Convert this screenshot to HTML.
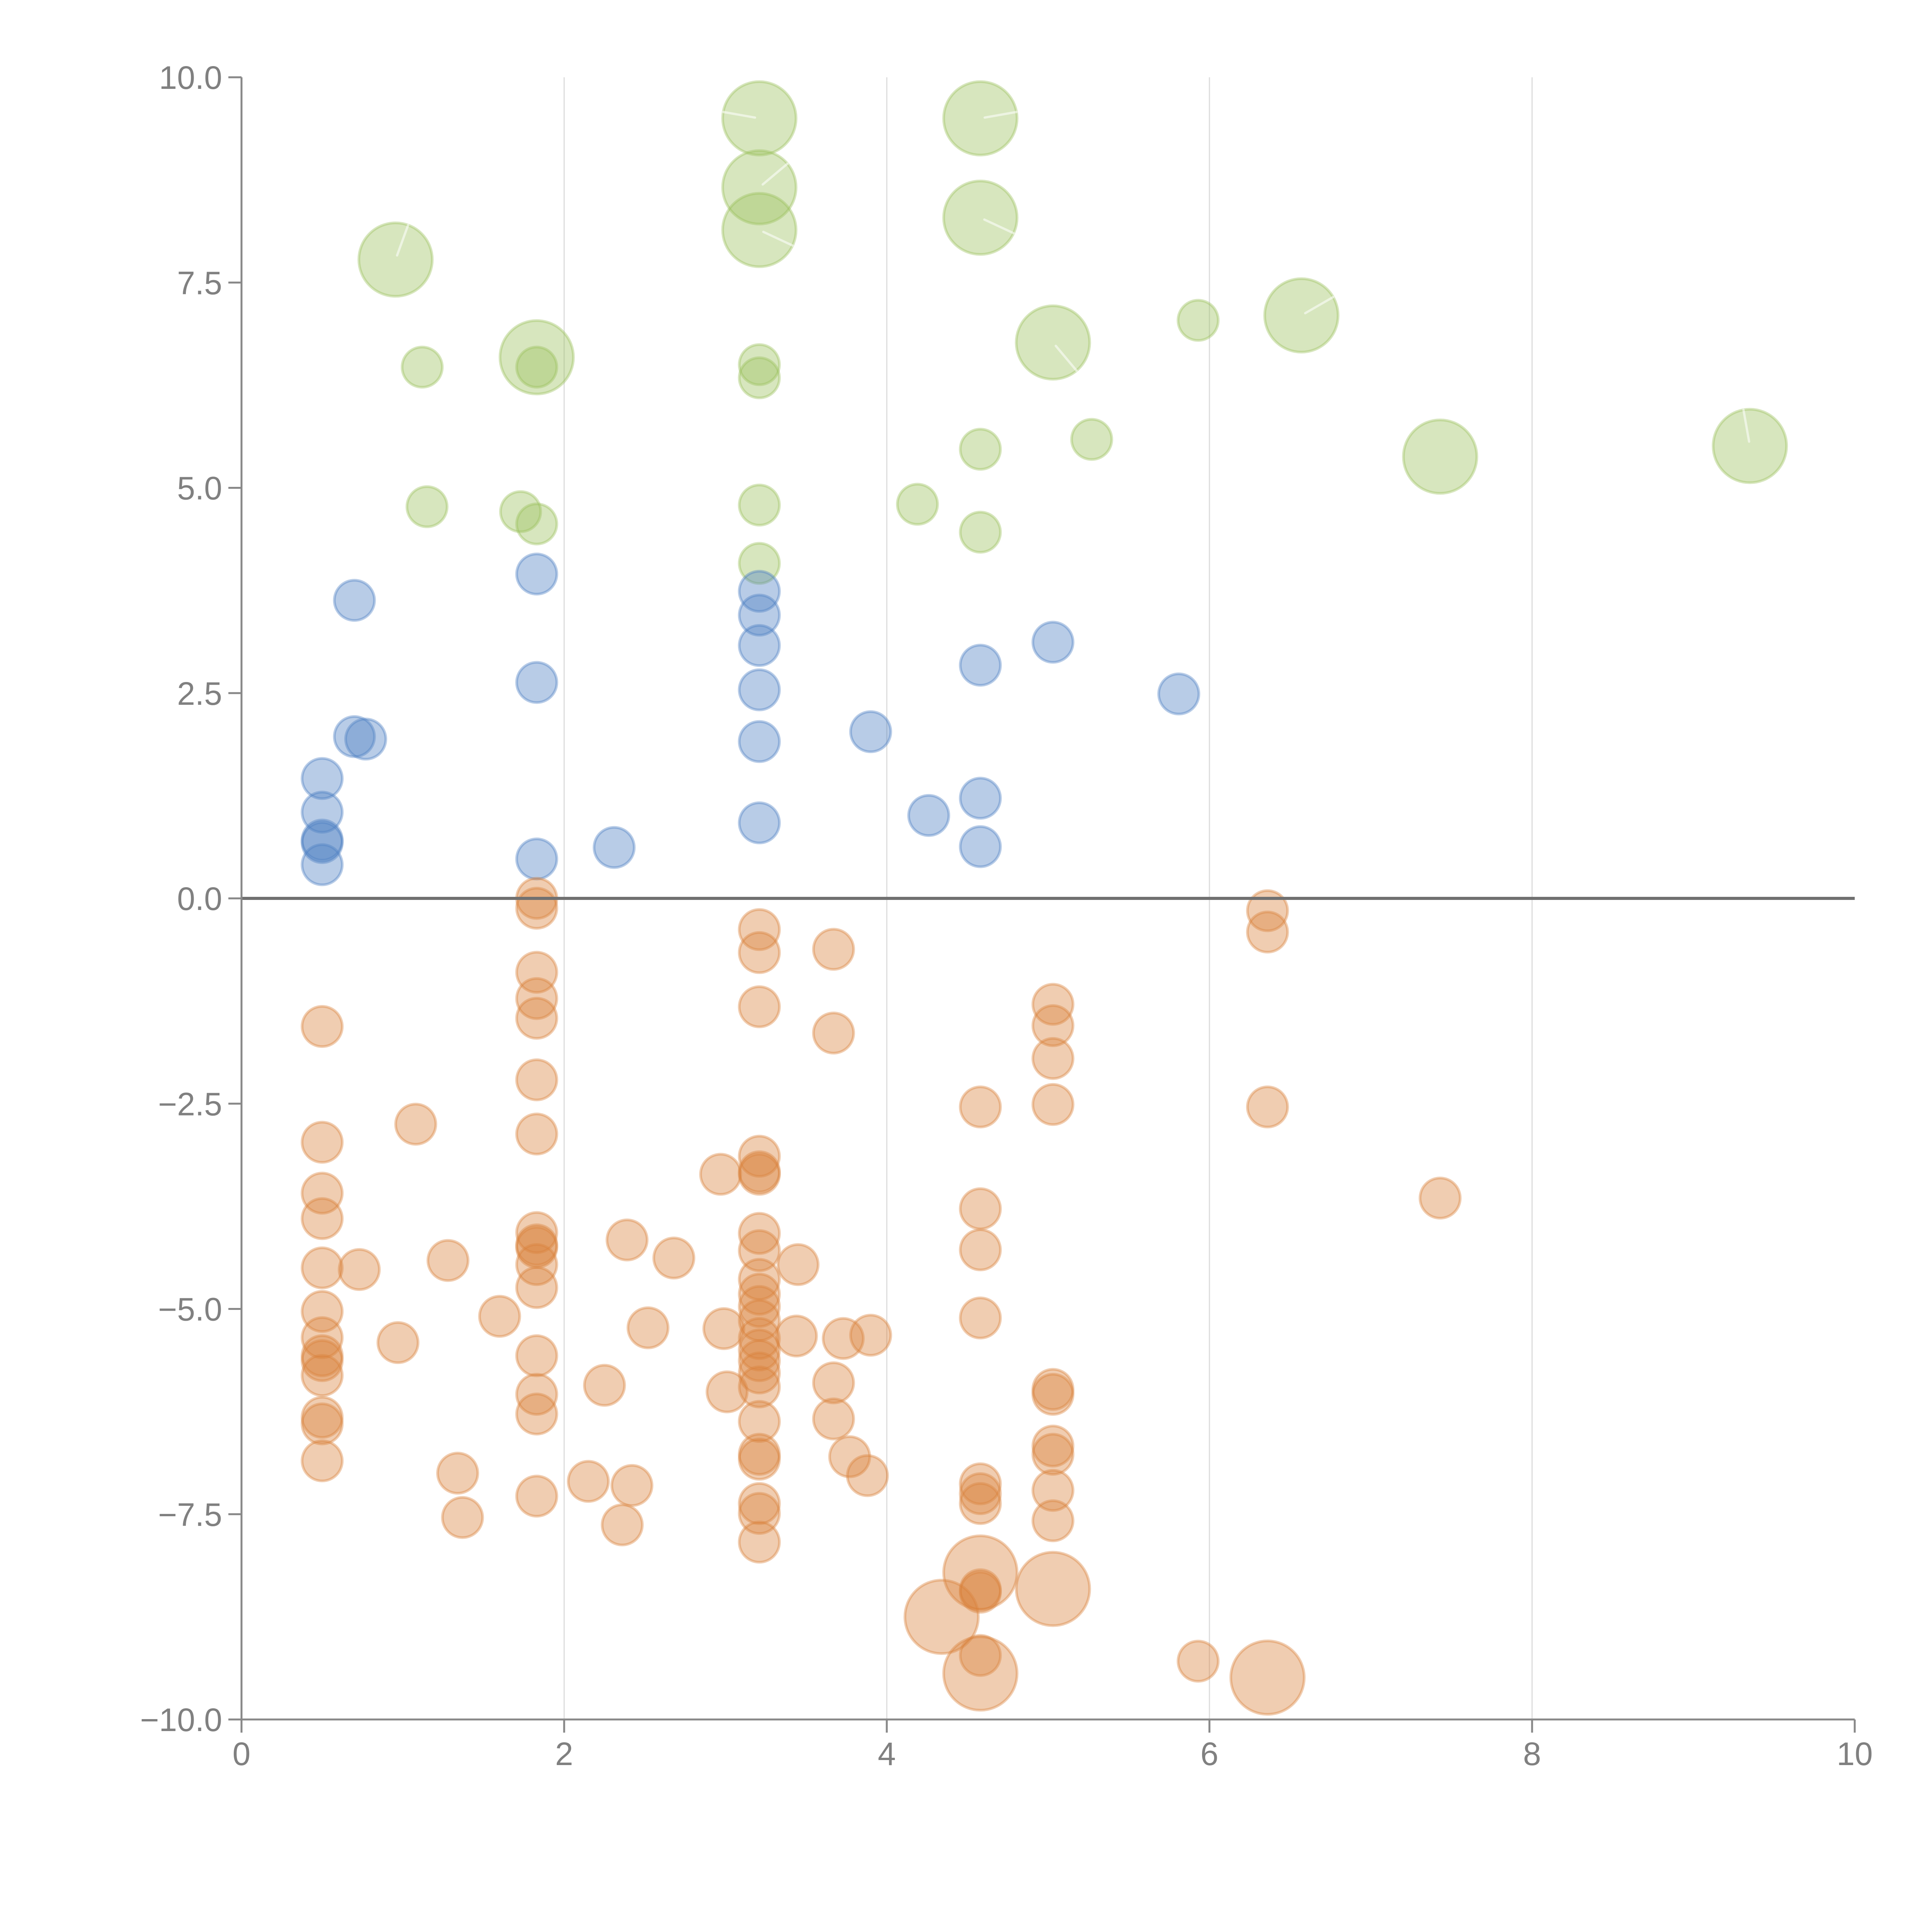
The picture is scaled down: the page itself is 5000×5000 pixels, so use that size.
<!DOCTYPE html>
<html><head><meta charset="utf-8"><style>
html,body{margin:0;padding:0;background:#fff;width:5000px;height:5000px;overflow:hidden}
svg{display:block}
svg text{font-family:"Liberation Sans",Arial,sans-serif;fill:#808080;font-size:84px}
</style></head><body>
<svg id="chart" width="5000" height="5000" xmlns="http://www.w3.org/2000/svg">
<g id="grid"></g>
<g id="marks"></g>
<g id="axes"></g>
</svg>
<script>
const xTicks=[0,2,4,6,8,10];
const xTickLabels=["0","2","4","6","8","10"];
const yTicks=[-10,-7.5,-5,-2.5,0,2.5,5,7.5,10];
const yTickLabels=["\u221210.0","\u22127.5","\u22125.0","\u22122.5","0.0","2.5","5.0","7.5","10.0"];
const greenX=[0.955,1.12,1.15,1.73,1.83,1.83,1.83,3.21,3.21,3.21,3.21,3.21,3.21,3.21,4.19,4.58,4.58,4.58,4.58,5.03,5.27,5.93,6.57,7.43,9.35];
const greenY=[7.78,6.47,4.77,4.71,4.56,6.47,6.59,9.5,8.66,8.14,6.5,6.34,4.79,4.08,4.8,9.5,8.29,5.47,4.46,6.77,5.59,7.04,7.1,5.38,5.51];
const greenBig=[1,0,0,0,0,0,1,1,1,1,0,0,0,0,0,1,1,0,0,1,0,0,1,1,1];
const greenAngle=[-70,null,null,null,null,null,null,-170,-40,25,null,null,null,null,null,-10,25,null,null,50,null,null,-30,null,-100];
const blueX=[0.70,0.70,0.77,0.5,0.5,0.5,0.5,0.5,1.83,1.83,1.83,2.31,3.21,3.21,3.21,3.21,3.21,3.21,3.90,4.26,4.58,4.58,4.58,5.03,5.81];
const blueY=[3.63,1.97,1.94,1.46,1.05,0.71,0.68,0.41,3.95,2.63,0.48,0.62,3.74,3.45,3.08,2.54,1.91,0.92,2.03,1.01,2.84,1.22,0.63,3.12,2.49];
const orangeX=[0.5,0.5,0.5,0.5,0.5,0.5,0.5,0.5,0.5,0.5,0.5,0.5,0.5,
1.08,0.73,0.97,1.28,1.34,1.37,1.60,
1.83,1.83,1.83,1.83,1.83,1.83,1.83,1.83,1.83,1.83,1.83,1.83,1.83,1.83,1.83,1.83,
2.15,2.25,2.36,2.39,2.42,2.52,2.68,2.97,2.99,3.01,
3.21,3.21,3.21,3.21,3.21,3.21,3.21,3.21,3.21,3.21,3.21,3.21,3.21,3.21,3.21,3.21,3.21,3.21,3.21,3.21,3.21,3.21,3.21,
3.45,3.44,3.67,3.67,3.67,3.67,3.73,3.77,3.88,3.90,4.34,
4.58,4.58,4.58,4.58,4.58,4.58,4.58,4.58,4.58,4.58,4.58,4.58,
5.03,5.03,5.03,5.03,5.03,5.03,5.03,5.03,5.03,5.03,5.03,
5.93,6.36,6.36,6.36,6.36,7.43];
const orangeY=[-1.56,-2.97,-3.59,-3.90,-4.50,-5.03,-5.35,-5.57,-5.63,-5.81,-6.32,-6.40,-6.85,
-2.75,-4.52,-5.41,-4.41,-7.0,-7.54,-5.09,
0,-0.12,-0.90,-1.22,-1.46,-2.21,-2.87,-4.07,-4.22,-4.25,-4.46,-4.74,-5.57,-6.04,-6.28,-7.28,
-7.1,-5.93,-7.63,-4.16,-7.15,-5.23,-4.38,-3.36,-5.24,-6.01,
-0.38,-0.66,-1.32,-3.14,-3.33,-3.36,-4.08,-4.29,-4.64,-4.82,-4.97,-5.14,-5.36,-5.50,-5.63,-5.78,-5.95,-6.37,-6.77,-6.83,-7.37,-7.49,-7.84,
-4.46,-5.33,-0.62,-1.64,-5.90,-6.34,-5.36,-6.80,-7.03,-5.32,-8.75,
-2.54,-3.78,-4.28,-5.11,-7.13,-7.25,-7.37,-8.21,-8.42,-8.45,-9.22,-9.44,
-1.29,-1.55,-1.95,-2.51,-5.98,-6.04,-6.67,-6.77,-7.21,-7.58,-8.41,
-9.29,-0.15,-0.41,-2.54,-9.49,-3.65];
const orangeBig=[0,0,0,0,0,0,0,0,0,0,0,0,0, 0,0,0,0,0,0,0, 0,0,0,0,0,0,0,0,0,0,0,0,0,0,0,0, 0,0,0,0,0,0,0,0,0,0,
0,0,0,0,0,0,0,0,0,0,0,0,0,0,0,0,0,0,0,0,0,0,0, 0,0,0,0,0,0,0,0,0,0,1,
0,0,0,0,0,0,0,1,0,0,0,1, 0,0,0,0,0,0,0,0,0,0,1, 0,0,0,0,1,0];
const orangeAngle={81:140,88:-112,93:0,104:-35,109:-15};

const NS="http://www.w3.org/2000/svg";
const X0=625,X1=4800,Y0=4450,Y1=200;
function sx(v){return X0+(v-0)/(10-0)*(X1-X0);}
function sy(v){return Y0-(v+10)/20*(Y0-Y1);}
function mk(tag,attrs,parent){const e=document.createElementNS(NS,tag);for(const k in attrs)e.setAttribute(k,attrs[k]);parent.appendChild(e);return e;}
const grid=document.getElementById('grid'),marks=document.getElementById('marks'),axes=document.getElementById('axes');

xTicks.forEach(t=>{if(t>0&&t<10){const l=mk('line',{x1:sx(t),x2:sx(t),y1:Y1,y2:Y0,stroke:'#dcdcdc','stroke-width':3},grid);

}});

function bubble(x,y,big,ang,color,name){
  const r=big?95:52;
  const c=mk('circle',{cx:sx(x),cy:sy(y),r:r,fill:color,'fill-opacity':0.4,stroke:color,'stroke-opacity':0.4,'stroke-width':7},marks);
  
  
  if(big&&ang!=null&&ang!==undefined){
    const a=ang*Math.PI/180;
    const h=mk('line',{x1:sx(x)+Math.cos(a)*r*0.12,y1:sy(y)+Math.sin(a)*r*0.12,x2:sx(x)+Math.cos(a)*r,y2:sy(y)+Math.sin(a)*r,stroke:'#fff','stroke-opacity':0.55,'stroke-width':6,'stroke-linecap':'round'},marks);
    
    
  }
}
greenX.forEach((x,i)=>bubble(x,greenY[i],greenBig[i],greenAngle[i],'#9bc15c','green-bubble'));
blueX.forEach((x,i)=>bubble(x,blueY[i],0,null,'#4d7fc4','blue-bubble'));
orangeX.forEach((x,i)=>bubble(x,orangeY[i],orangeBig[i],orangeAngle[i],'#d9823b','orange-bubble'));

const z=mk('line',{x1:X0,x2:X1,y1:sy(0),y2:sy(0),stroke:'#707070','stroke-width':8},axes);


const ya=mk('line',{x1:X0,x2:X0,y1:Y1,y2:Y0,stroke:'#888','stroke-width':5},axes);


const xa=mk('line',{x1:X0,x2:X1,y1:Y0,y2:Y0,stroke:'#888','stroke-width':5},axes);


yTicks.forEach((t,i)=>{
  const tk=mk('line',{x1:X0-34,x2:X0,y1:sy(t),y2:sy(t),stroke:'#888','stroke-width':5},axes);
  
  
  const tx=mk('text',{x:X0-50,y:sy(t)+30,'text-anchor':'end'},axes);
  tx.textContent=yTickLabels[i];
  
  
});
xTicks.forEach((t,i)=>{
  const tk=mk('line',{x1:sx(t),x2:sx(t),y1:Y0,y2:Y0+34,stroke:'#888','stroke-width':5},axes);
  
  
  const tx=mk('text',{x:sx(t),y:Y0+118,'text-anchor':'middle'},axes);
  tx.textContent=xTickLabels[i];
  
  
});
</script>
</body></html>
